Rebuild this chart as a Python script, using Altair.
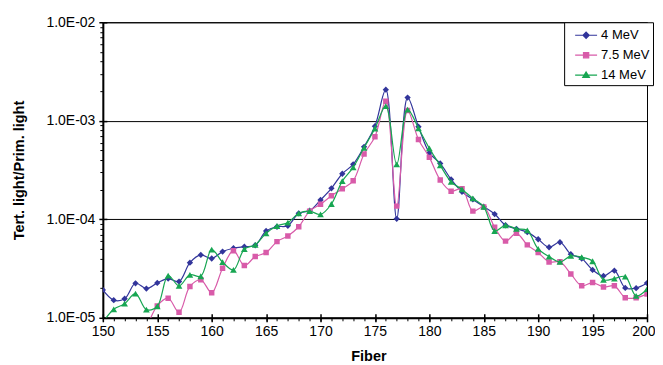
import altair as alt
import pandas as pd

FONT = "Liberation Sans"

fibers = list(range(150, 201))
series_names = ["4 MeV", "7.5 MeV", "14 MeV"]
series_colors = ["#32359B", "#D85BA9", "#17A652"]
marker_shapes = ["diamond", "square", "triangle-up"]
marker_sizes = [40, 30, 45]

mev_4 = [1.92e-5, 1.51e-5, 1.56e-5, 2.24e-5, 1.98e-5, 2.26e-5, 2.5e-5, 2.33e-5, 3.63e-5, 4.35e-5,
         4.0e-5, 4.7e-5, 5.08e-5, 5.27e-5, 5.45e-5, 7.6e-5, 8.4e-5, 8.6e-5, 1.15e-4, 1.22e-4,
         1.57e-4, 2.06e-4, 2.9e-4, 3.61e-4, 5.44e-4, 8.82e-4, 2.07e-3, 1.01e-4, 1.72e-3, 8.7e-4,
         4.73e-4, 3.69e-4, 2.54e-4, 1.9e-4, 1.59e-4, 1.34e-4, 1.13e-4, 8.7e-5, 8.0e-5, 7.4e-5,
         6.27e-5, 5.2e-5, 5.85e-5, 4.42e-5, 3.99e-5, 3.06e-5, 2.66e-5, 3.01e-5, 2.01e-5, 2.0e-5,
         2.25e-5]

mev_7_5 = [None, None, None, None, 7.7e-6, 1.32e-5, 1.58e-5, 1.14e-5, 2.08e-5, 2.43e-5,
           1.8e-5, 3.19e-5, 4.8e-5, 3.39e-5, 4.18e-5, 4.59e-5, 5.93e-5, 6.78e-5, 8.4e-5, 1.21e-4,
           1.42e-4, 1.73e-4, 2.04e-4, 2.46e-4, 4.59e-4, 6.87e-4, 1.58e-3, 1.36e-4, 1.27e-3, 6.47e-4,
           4.25e-4, 2.5e-4, 1.93e-4, 2.04e-4, 1.21e-4, 1.33e-4, 8.3e-5, 6.0e-5, 7.2e-5, 5.5e-5,
           4.6e-5, 3.69e-5, 3.7e-5, 2.79e-5, 2.11e-5, 2.28e-5, 2.05e-5, 2.11e-5, 1.6e-5, 1.6e-5,
           1.74e-5]

mev_14 = [9.0e-6, 1.22e-5, 1.39e-5, 1.76e-5, 1.21e-5, 1.31e-5, 2.68e-5, 2.11e-5, 2.73e-5, 2.64e-5,
          4.92e-5, 3.67e-5, 3.06e-5, 4.97e-5, 5.5e-5, 7.2e-5, 8.55e-5, 9.25e-5, 1.15e-4, 1.21e-4,
          1.12e-4, 1.43e-4, 2.44e-4, 3.36e-4, 5.32e-4, 8.35e-4, 1.41e-3, 3.61e-4, 1.3e-3, 8.4e-4,
          5.25e-4, 3.52e-4, 2.4e-4, 2.01e-4, 1.63e-4, 1.34e-4, 7.6e-5, 8.7e-5, 8.0e-5, 7.7e-5,
          5.0e-5, 4.18e-5, 3.69e-5, 4.25e-5, 4.12e-5, 3.75e-5, 2.43e-5, 2.5e-5, 2.62e-5, 1.67e-5,
          1.95e-5]

x_major = list(range(150, 201, 5))
x_minor = list(range(150, 201))
y_major = [1e-5, 1e-4, 1e-3, 1e-2]
y_minor = [k * 10.0 ** e for e in (-5, -4, -3) for k in range(2, 10)]

# legend symbols: short line with marker (custom paths)
legend_paths = [
    "M-0.22,0L2.22,0M1,-0.34L1.34,0L1,0.34L0.66,0Z",
    "M-0.22,0L2.22,0M0.71,-0.29L1.29,-0.29L1.29,0.29L0.71,0.29Z",
    "M-0.22,0L2.22,0M1,-0.36L1.37,0.26L0.63,0.26Z",
]

rows = []
for name, vals in zip(series_names, [mev_4, mev_7_5, mev_14]):
    for f, v in zip(fibers, vals):
        if v is not None:
            rows.append({"fiber": f, "value": v, "series": name})
df = pd.DataFrame(rows)

xs = alt.Scale(domain=[150, 200], nice=False)
ys = alt.Scale(type="log", domain=[1e-5, 1e-2], nice=False)

ax_common = dict(tickColor="black", domainColor="black", labelColor="black", titleColor="black")

x_axis_main = alt.Axis(values=x_major[:-1], tickSize=4, tickWidth=1.5, labelFont=FONT, labelFontSize=14,
                       labelPadding=3, labelFlush=False, labelOverlap=False,
                       title="Fiber", titleFont=FONT, titleFontSize=14.5,
                       titleFontWeight="bold", titlePadding=11, titleX=266, domainWidth=2,
                       grid=False, orient="bottom", **ax_common)
x_axis_last = alt.Axis(values=x_major[-1:], tickSize=4, tickWidth=1.5, labelFont=FONT, labelFontSize=14,
                       labelPadding=3, labelFlush=True, labelFlushOffset=8, labelOverlap=False,
                       title=None, domain=False, grid=False, orient="bottom", **ax_common)
y_axis_main = alt.Axis(values=y_major, labelExpr="'1.0E-0' + abs(round(log(datum.value)/LN10))",
                       tickSize=4, tickWidth=1.5, labelFont=FONT, labelFontSize=14, labelPadding=4,
                       labelFlush=False, labelOverlap=False,
                       title="Tert. light/Prim. light", titleFont=FONT, titleFontSize=14.5,
                       titleFontWeight="bold", titlePadding=19, grid=True, gridColor="black",
                       gridWidth=1, gridOpacity=1, domainWidth=2, orient="left", **ax_common)
x_axis_minor = alt.Axis(values=x_minor, tickSize=3, labels=False, domain=False, grid=False,
                        title=None, orient="bottom", tickColor="black")
y_axis_minor = alt.Axis(values=y_minor, tickSize=3, labels=False, domain=False, grid=False,
                        title=None, orient="left", tickColor="black")
x_axis_in = alt.Axis(values=x_major, tickSize=4, offset=-4, labels=False, domain=False, grid=False,
                     title=None, orient="bottom", tickColor="black", tickWidth=1.5)
y_axis_in = alt.Axis(values=y_major, tickSize=4, offset=-4, labels=False, domain=False, grid=False,
                     title=None, orient="left", tickColor="black", tickWidth=1.5)

# (x axis, y axis) for each layer: line / points per series
axis_plan = [
    (x_axis_main, y_axis_main), (x_axis_minor, y_axis_minor),
    (x_axis_in, y_axis_in), (x_axis_last, None),
    (None, None), (None, None),
]

layers = []
k = 0
for name, col, shp, sz in zip(series_names, series_colors, marker_shapes, marker_sizes):
    base = alt.Chart(df).transform_filter(alt.datum.series == name)
    xa, ya = axis_plan[k]
    line = base.mark_line(interpolate="catmull-rom", strokeWidth=1.2, color=col, clip=True).encode(
        x=alt.X("fiber:Q", scale=xs, axis=xa),
        y=alt.Y("value:Q", scale=ys, axis=ya),
    )
    xa, ya = axis_plan[k + 1]
    pts = base.mark_point(shape=shp, size=sz, filled=True, opacity=1, color=col, clip=True).encode(
        x=alt.X("fiber:Q", scale=xs, axis=xa),
        y=alt.Y("value:Q", scale=ys, axis=ya),
    )
    k += 2
    layers += [line, pts]

leg = alt.Legend(title=None, orient="none", legendX=462, legendY=0, fillColor="white",
                 strokeColor="black", padding=3, symbolSize=324, labelOffset=14,
                 labelFont=FONT, labelFontSize=13, labelColor="black", rowPadding=3,
                 symbolStrokeWidth=1.2, symbolOpacity=1)

legend_layer = alt.Chart(df).transform_filter("false").mark_point(filled=True, opacity=1).encode(
    x=alt.X("fiber:Q", scale=xs, axis=None),
    y=alt.Y("value:Q", scale=ys, axis=None),
    color=alt.Color("series:N", scale=alt.Scale(domain=series_names, range=series_colors), legend=leg),
    shape=alt.Shape("series:N", scale=alt.Scale(domain=series_names, range=legend_paths), legend=leg),
    stroke=alt.Stroke("series:N", scale=alt.Scale(domain=series_names, range=series_colors), legend=leg),
)
layers.append(legend_layer)

chart = alt.layer(*layers).resolve_axis(x="independent", y="independent").properties(
    width=545, height=296,
    padding={"left": 95, "top": 14, "right": 8, "bottom": 46},
    autosize=alt.AutoSizeParams(type="none"),
).configure_view(stroke="black", strokeWidth=1)

chart.save("out.html", embed_options={"renderer": "svg", "actions": False})
